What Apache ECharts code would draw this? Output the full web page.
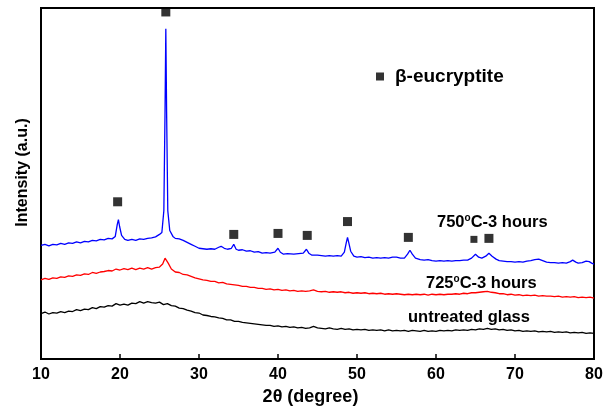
<!DOCTYPE html>
<html><head><meta charset="utf-8">
<script src="https://cdn.jsdelivr.net/npm/echarts@6/dist/echarts.min.js"></script>
<style>html,body{margin:0;padding:0;background:#fff}#c{width:614px;height:411px}</style>
</head><body><div id="c"></div>
<script>
const xTicks = [10,20,30,40,50,60,70,80];
const untreated = [[10,46],[10.5,47.5],[11,45.5],[11.5,47],[12,46.5],[12.5,48],[13,47],[13.5,48.5],[14,48],[14.5,50],[15,49],[15.5,50.5],[16,50],[16.5,52],[17,51],[17.5,53],[18,52.5],[18.5,54],[19,53.5],[19.5,56],[20,54.5],[20.5,55.5],[21,54.5],[21.5,56.5],[22,56],[22.5,58],[23,56.5],[23.5,58],[24,57],[24.5,56.5],[25,57.5],[25.5,55],[26,56],[26.5,54],[27,53.5],[27.5,51.5],[28,51],[28.5,49.5],[29,48.5],[29.5,47],[30,46.5],[30.5,44.5],[31,44],[31.5,43],[32,42.5],[32.5,41.5],[33,41],[33.5,39.5],[34,39.5],[34.5,38],[35,38],[35.5,37],[36,36.5],[36.5,36],[37,35.5],[37.5,35],[38,34.5],[38.5,34],[39,34],[39.5,33],[40,33.5],[40.5,32.5],[41,33],[41.5,32],[42,32.5],[42.5,31.5],[43,32],[43.5,31],[44,31.5],[44.5,33],[45,31.5],[45.5,31],[46,30.5],[46.5,31.5],[47,30.5],[47.5,30],[48,31],[48.5,30],[49,30.5],[49.5,29.5],[50,30],[50.5,29.5],[51,30],[51.5,29],[52,29.5],[52.5,29],[53,29.5],[53.5,28.5],[54,29.5],[54.5,28.5],[55,29],[55.5,28.5],[56,29],[56.5,28],[57,29],[57.5,28.5],[58,28],[58.5,29],[59,28],[59.5,28.5],[60,28],[60.5,29],[61,28.5],[61.5,29],[62,28.5],[62.5,29.5],[63,29],[63.5,29.5],[64,29],[64.5,30],[65,29.5],[65.5,30.5],[66,30],[66.5,31],[67,30],[67.5,30.5],[68,29.5],[68.5,30],[69,29],[69.5,29.5],[70,28.5],[70.5,29],[71,28],[71.5,28.5],[72,28],[72.5,28.5],[73,27.5],[73.5,28],[74,27.5],[74.5,28],[75,27],[75.5,27.5],[76,27],[76.5,27.5],[77,26.5],[77.5,27],[78,26.5],[78.5,27],[79,26],[79.5,26.5],[80,26]];
const c725 = [[10,80],[10.5,81.5],[11,80.5],[11.5,82],[12,81.5],[12.5,83],[13,82.5],[13.5,84],[14,83.5],[14.5,85],[15,84.5],[15.5,86],[16,85.5],[16.5,87.5],[17,86.5],[17.5,88],[18,88.5],[18.5,89.5],[19,89],[19.5,91],[20,90],[20.5,91.5],[21,90.5],[21.5,92],[22,90.5],[22.5,92],[23,91],[23.5,92.5],[24,91],[24.5,92.5],[25,93],[25.4,96],[25.7,102],[25.85,103.5],[26.1,97],[26.5,91],[27,88],[27.5,87.5],[28,85.5],[28.5,85],[29,83.5],[29.5,82],[30,81],[30.5,80],[31,79.5],[31.5,78.5],[32,78.5],[32.5,77],[33,77.5],[33.5,76],[34,75.5],[34.5,75],[35,74.5],[35.5,73.5],[36,73.5],[36.5,72.5],[37,72.5],[37.5,71.5],[38,71.5],[38.5,70.5],[39,71],[39.5,70],[40,70.5],[40.5,69.5],[41,70],[41.5,69],[42,69.5],[42.5,68.5],[43,69],[43.5,68.5],[44,69],[44.5,70],[45,68.5],[45.5,68],[46,68.5],[46.5,67.5],[47,68],[47.5,67.5],[48,68],[48.5,67],[49,67.5],[49.5,66.5],[50,67],[50.5,66.5],[51,67],[51.5,66],[52,66.5],[52.5,66],[53,66.5],[53.5,65.5],[54,66],[54.5,65.5],[55,66],[55.5,65.5],[56,65],[56.5,65.5],[57,65],[57.5,65.5],[58,65],[58.5,65.5],[59,64.5],[59.5,65.5],[60,65],[60.5,65.5],[61,65],[61.5,65.5],[62,65.5],[62.5,66],[63,65.5],[63.5,66.5],[64,66],[64.5,67],[65,67],[65.5,67.5],[66,68],[66.5,68.5],[67,67.5],[67.5,67],[68,66],[68.5,66],[69,65],[69.5,65.5],[70,64.5],[70.5,65],[71,64],[71.5,64.5],[72,64],[72.5,64.5],[73,63.5],[73.5,64],[74,63.5],[74.5,63.5],[75,63],[75.5,63.5],[76,62.5],[76.5,63],[77,62.5],[77.5,63],[78,62],[78.5,62.5],[79,62],[79.5,62.5],[80,61.5]];
const c750 = [[10,115],[10.5,116],[11,114.5],[11.5,116],[12,115.5],[12.5,117],[13,116],[13.5,117.5],[14,117],[14.5,118.5],[15,117.5],[15.5,119],[16,118.5],[16.5,120],[17,119.5],[17.5,121],[18,120.5],[18.5,122],[19,121.5],[19.4,124],[19.65,136],[19.8,141],[19.95,134],[20.2,125],[20.6,121],[21,120],[21.5,121],[22,120],[22.5,121.5],[23,121],[23.5,122],[24,122.5],[24.5,123.5],[25,126],[25.3,128],[25.55,150],[25.7,250],[25.8,334],[25.9,250],[26.05,150],[26.3,130],[26.7,124],[27,122],[27.5,121.5],[28,120],[28.5,118],[29,116],[29.5,114],[30,112],[30.5,111.5],[31,111],[31.5,111.5],[32,111],[32.5,113],[32.8,114],[33.2,112],[33.6,111],[34.1,112],[34.4,116],[34.7,111],[35,110],[35.5,110.5],[36,109],[36.5,109.5],[37,108],[37.5,108.5],[38,107],[38.5,107.5],[39,107],[39.6,108],[40,112],[40.3,108],[40.7,106],[41.2,106.5],[42,106],[42.6,106.5],[43.2,107],[43.6,111],[43.9,107],[44.3,105],[45,105],[45.5,104.5],[46,104],[46.5,104.5],[47,104],[47.5,104.5],[48,104],[48.4,108],[48.65,118],[48.8,123],[48.95,118],[49.2,109],[49.6,104],[50,103],[50.5,103.5],[51,102.5],[51.5,103],[52,102],[52.5,102.5],[53,102],[53.5,102.5],[54,102],[54.5,103],[55,103],[55.5,102],[56,102],[56.4,106],[56.7,110],[57,106],[57.4,102],[58,100.5],[58.5,100],[59,100.5],[59.5,99.5],[60,99],[60.5,99.5],[61,99],[61.5,99.5],[62,99],[62.5,99.5],[63,99.5],[63.5,100],[64,100],[64.5,102],[65,106],[65.4,103],[65.8,102],[66.3,104],[66.7,107],[67.1,104],[67.6,101],[68,99.5],[68.5,99],[69,98.5],[69.5,98.5],[70,98],[70.5,98.5],[71,98],[71.5,99],[72,99.5],[72.5,100.5],[73,101],[73.5,99.5],[74,98],[74.5,97.5],[75,97.5],[75.5,97],[76,97.5],[76.5,97],[77,98.5],[77.3,100],[77.7,98],[78,97],[78.5,97.5],[79,99],[79.4,98.5],[79.7,97],[80,96]];
const peakMarks = [[25.8,351],[19.7,159],[34.4,126],[40.0,127],[43.7,125],[48.8,139],[56.5,123],[66.7,122]];
const smallMarks = [[64.8,121]];

const FONT = 'Liberation Sans, Arial, sans-serif';
const supRich = {s: {fontSize: 10, fontWeight: 'bold', fontFamily: FONT, verticalAlign: 'top', padding: [0,0,9,0]}};
const chart = echarts.init(document.getElementById('c'), null, {renderer:'canvas'});
chart.setOption({
  animation: false,
  backgroundColor: '#fff',
  grid: {left: 41, right: 20, top: 8, bottom: 48, show: true, borderColor: '#000', borderWidth: 2},
  legend: {
    data: [{name: 'β-eucryptite', icon: 'rect'}],
    left: 371, top: 62, itemWidth: 8, itemHeight: 8, selectedMode: false,
    textStyle: {fontFamily: FONT, fontWeight: 'bold', fontSize: 19, color: '#000', padding: [0,0,0,6]}
  },
  xAxis: {
    type: 'value', min: 10, max: 80, interval: 10,
    name: '2θ (degree)', nameLocation: 'middle', nameGap: 29,
    nameTextStyle: {fontFamily: FONT, fontWeight: 'bold', fontSize: 18, color: '#000', padding: [0,14,0,0]},
    axisLine: {show: true, lineStyle: {color: '#000', width: 2}},
    axisTick: {show: true, inside: true, length: 5, lineStyle: {color: '#000', width: 1.5}},
    axisLabel: {fontFamily: FONT, fontWeight: 'bold', fontSize: 16, color: '#000', margin: 8},
    splitLine: {show: false}
  },
  yAxis: {
    type: 'value', min: 0, max: 355,
    name: 'Intensity (a.u.)', nameLocation: 'middle', nameGap: 10,
    nameTextStyle: {fontFamily: FONT, fontWeight: 'bold', fontSize: 16, color: '#000', padding: [0,0,0,22]},
    axisLine: {show: true, lineStyle: {color: '#000', width: 2}},
    axisTick: {show: false}, axisLabel: {show: false}, splitLine: {show: false}
  },
  graphic: [
    {type: 'text', left: 437, top: 213, style: {text: '750{s|o}C-3 hours', font: 'bold 16.5px ' + FONT, fill: '#000', rich: supRich}},
    {type: 'text', left: 426, top: 274, style: {text: '725{s|o}C-3 hours', font: 'bold 16.5px ' + FONT, fill: '#000', rich: supRich}},
    {type: 'text', left: 408, top: 309, style: {text: 'untreated glass', font: 'bold 16.5px ' + FONT, fill: '#000'}}
  ],
  series: [
    {name: 'untreated glass', type: 'line', data: untreated, showSymbol: false, lineStyle: {color: '#000', width: 1.3}, itemStyle: {color: '#000'}},
    {name: '725°C-3 hours', type: 'line', data: c725, showSymbol: false, lineStyle: {color: '#ff0000', width: 1.3}, itemStyle: {color: '#ff0000'}},
    {name: '750°C-3 hours', type: 'line', data: c750, showSymbol: false, lineStyle: {color: '#0000ff', width: 1.3}, itemStyle: {color: '#0000ff'}},
    {name: 'β-eucryptite', type: 'scatter', data: peakMarks, symbol: 'rect', symbolSize: 9, clip: false, itemStyle: {color: '#000'}},
    {name: 'β-eucryptite-small', type: 'scatter', data: smallMarks, symbol: 'rect', symbolSize: 7, clip: false, itemStyle: {color: '#000'}}
  ]
});
</script></body></html>
